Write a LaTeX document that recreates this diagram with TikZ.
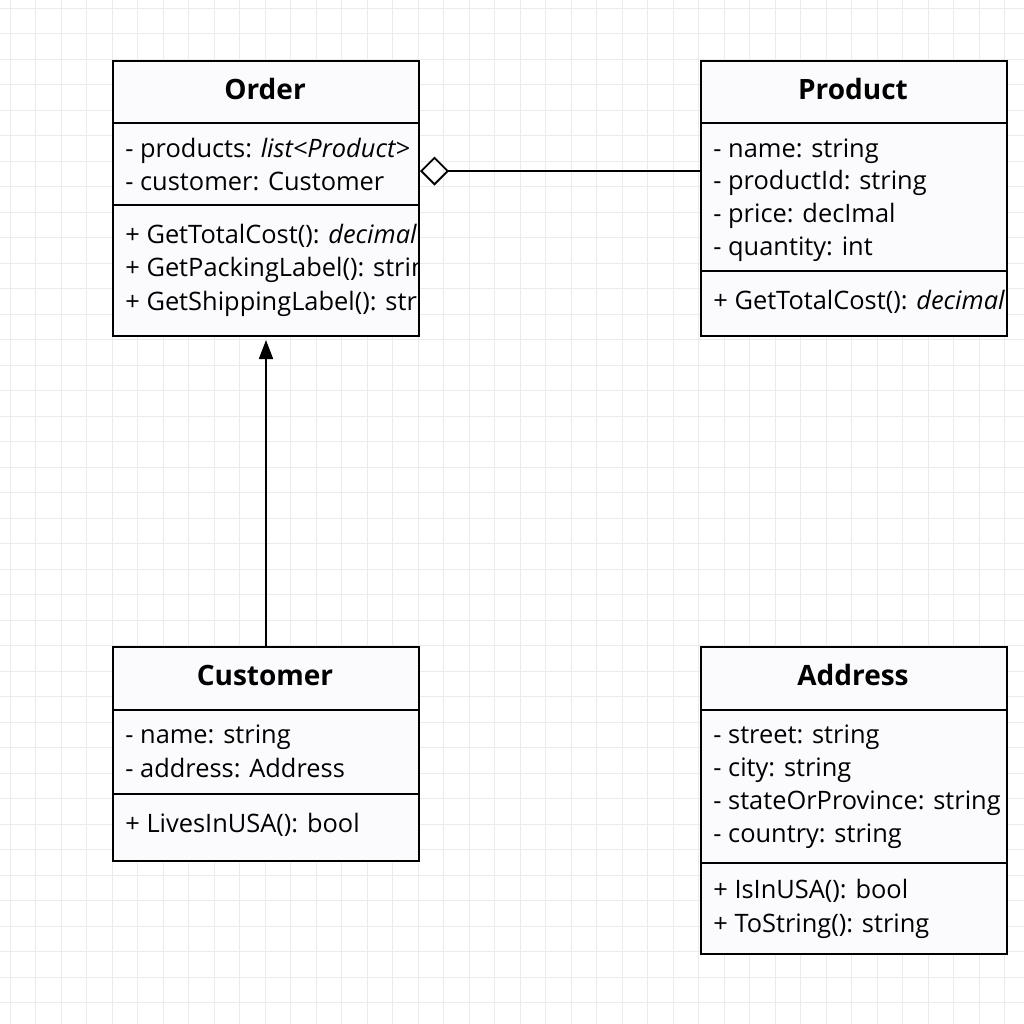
\documentclass[tikz,border=0pt]{standalone}
\usepackage{fontspec}
\setmainfont{Open Sans}
\usetikzlibrary{arrows.meta}
\definecolor{gridgray}{HTML}{EBEBEB}
\definecolor{boxfill}{HTML}{FBFBFD}

\begin{document}
\begin{tikzpicture}[x=0.5pt, y=-0.5pt,
  classbox/.style={draw, line width=1pt, fill=boxfill, anchor=north west, inner sep=0pt, minimum width=153pt},
  divider/.style={line width=1pt},
  classname/.style={anchor=base, inner sep=0pt, font=\bfseries\fontsize{14}{16}\selectfont},
  member/.style={anchor=base west, inner sep=0pt, font=\fontsize{12.7}{15}\selectfont},
  gridline/.style={gridgray, line width=0.5pt}]

% background grid
\useasboundingbox (0,0) rectangle (1024,1024);
\fill[white] (0,0) rectangle (1024,1024);
\foreach \i in {0,...,39} {
  \draw[gridline] ({10+25.5*\i},0) -- ({10+25.5*\i},1024);
  \draw[gridline] (0,{8+25.5*\i}) -- (1024,{8+25.5*\i});
}

% Order
\node[classbox, minimum height=137.5pt] (order) at (112,60) {};
\node[classname] (orderT) at (265,99) {Order};
\draw[divider] (112,123) -- (418,123);
\draw[divider] (112,205) -- (418,205);
\begin{scope}
\clip (order.north west) rectangle ([xshift=-1pt]order.south east);
\foreach \t [count=\k] in {{- products: \textit{list<Product>}}, {- customer: Customer}}
  \node[member] (order-a\k) at (125,{157+33*(\k-1)}) {\t};
\foreach \t [count=\k] in {{+ GetTotalCost(): \textit{decimal}}, {+ GetPackingLabel(): string}, {+ GetShippingLabel(): string}}
  \node[member] (order-m\k) at (125,{243+33.5*(\k-1)}) {\t};
\end{scope}

% Product
\node[classbox, minimum height=137.5pt] (product) at (700,60) {};
\node[classname] (productT) at (853,99) {Product};
\draw[divider] (700,123) -- (1006,123);
\draw[divider] (700,271) -- (1006,271);
\begin{scope}
\clip (product.north west) rectangle ([xshift=-1pt]product.south east);
\foreach \t [count=\k] in {{- name: string}, {- productId: string}, {- price: decImal}, {- quantity: int}}
  \node[member] (product-a\k) at (713,{157+32.7*(\k-1)}) {\t};
\node[member] (product-m1) at (713,309) {+ GetTotalCost(): \textit{decimal}};
\end{scope}

% Customer
\node[classbox, minimum height=107pt] (customer) at (112,646) {};
\node[classname] (customerT) at (265,685) {Customer};
\draw[divider] (112,710) -- (418,710);
\draw[divider] (112,794) -- (418,794);
\foreach \t [count=\k] in {{- name: string}, {- address: Address}}
  \node[member] (customer-a\k) at (125,{743+34*(\k-1)}) {\t};
\node[member] (customer-m1) at (125,832) {+ LivesInUSA(): bool};

% Address
\node[classbox, minimum height=153.5pt] (address) at (700,646) {};
\node[classname] (addressT) at (853,685) {Address};
\draw[divider] (700,710) -- (1006,710);
\draw[divider] (700,863) -- (1006,863);
\foreach \t [count=\k] in {{- street: string}, {- city: string}, {- stateOrProvince: string}, {- country: string}}
  \node[member] (address-a\k) at (713,{743+33*(\k-1)}) {\t};
\foreach \t [count=\k] in {{+ IsInUSA(): bool}, {+ ToString(): string}}
  \node[member] (address-m\k) at (713,{898+34*(\k-1)}) {\t};

% relations
\draw[line width=0.9pt, -{Diamond[open, length=14.5pt, width=14.5pt]}] (product.west |- 0,171) -- (order.east |- 0,171);
\draw[line width=0.9pt, -{Triangle[length=9.5pt, width=7pt]}, shorten >=1.5pt] (customer.north) -- (order.south);

\end{tikzpicture}
\end{document}
